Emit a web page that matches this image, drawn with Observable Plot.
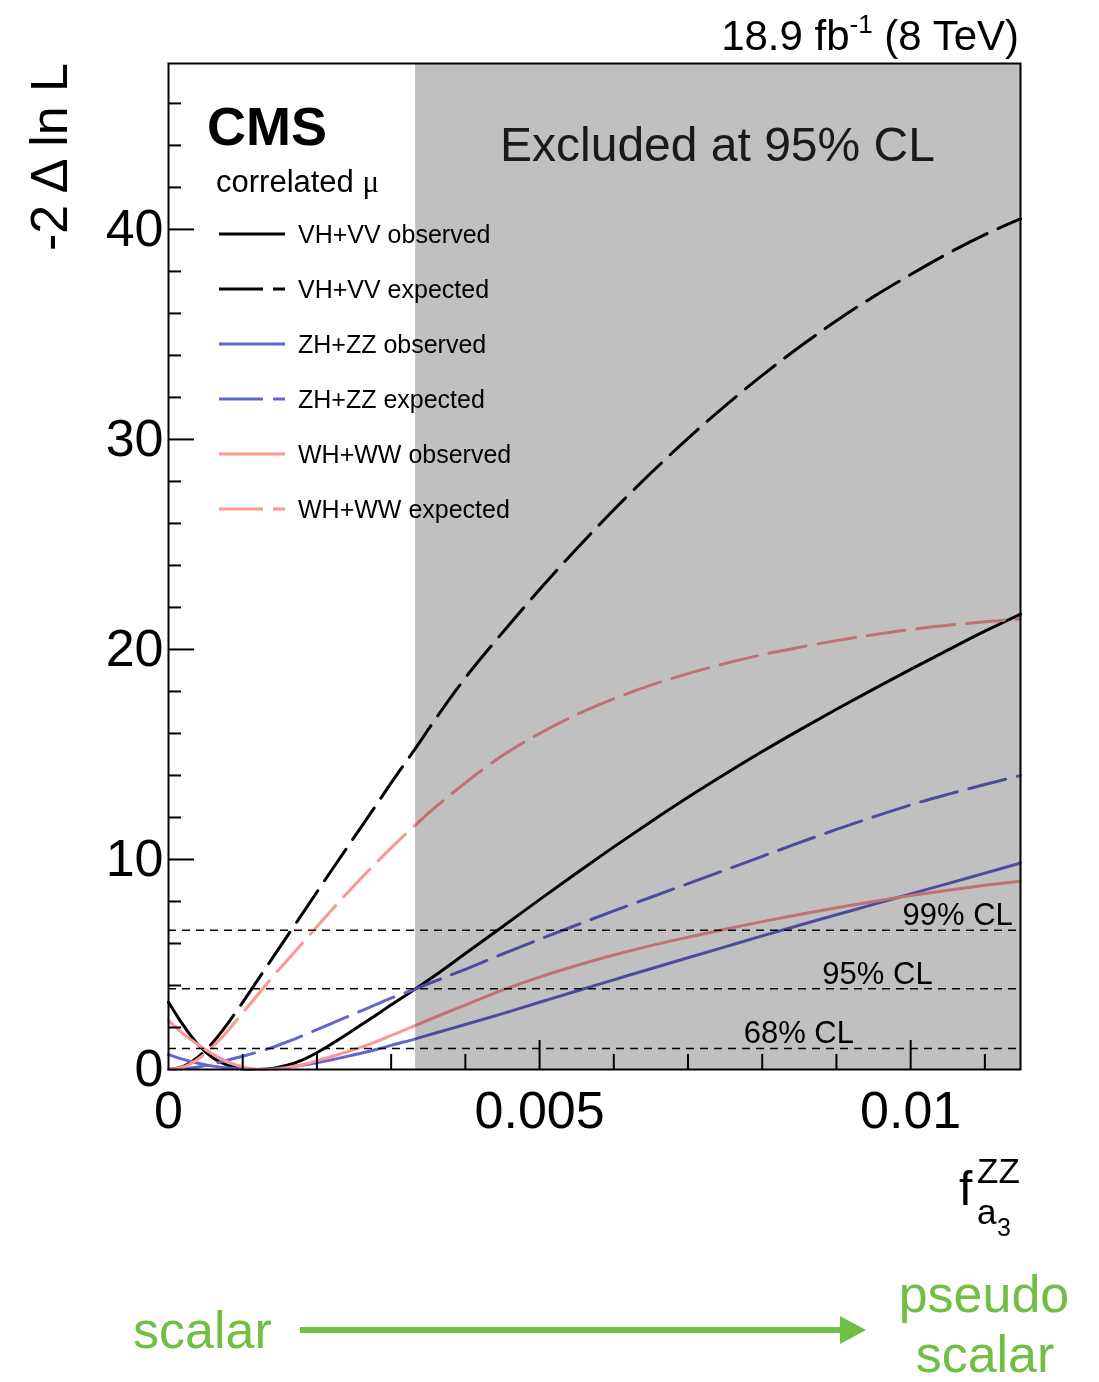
<!DOCTYPE html>
<html><head><meta charset="utf-8">
<script src="https://cdn.jsdelivr.net/npm/d3@7"></script>
<script src="https://cdn.jsdelivr.net/npm/@observablehq/plot@0.6"></script>
<style>body{margin:0;background:#fff;} svg{display:block}</style>
</head><body><div id="chart"></div>
<script>
// ---- data ----
const fa3 = [0,0.0002,0.0004,0.0006,0.0008,0.0010,0.0012,0.0014,0.0016,0.0018,0.0020,0.0022,0.0025,0.0028,0.0030,0.00333,0.0036,0.0040,0.0045,0.0050,0.0055,0.0060,0.0065,0.0070,0.0075,0.0080,0.0085,0.0090,0.0095,0.0100,0.0105,0.0110,0.01148];
const vhvvObserved = [3.2,2.1,1.18,0.55,0.2,0.04,0.0,0.05,0.2,0.45,0.8,1.22,1.9,2.6,3.08,3.84,4.5,5.52,6.8,8.09,9.36,10.6,11.8,12.96,14.07,15.14,16.16,17.15,18.11,19.05,19.97,20.87,21.68];
const vhvvExpected = [0,0.15,0.6,1.3,2.2,3.2,4.25,5.3,6.35,7.4,8.45,9.5,11.05,12.6,13.65,15.3,16.7,18.65,20.8,22.85,24.8,26.65,28.4,30.05,31.6,33.05,34.4,35.65,36.8,37.85,38.85,39.75,40.5];
const zhzzObserved = [0.71,0.48,0.3,0.16,0.07,0.02,0.0,0.02,0.1,0.2,0.32,0.46,0.7,0.95,1.15,1.46,1.74,2.14,2.66,3.2,3.74,4.27,4.8,5.32,5.84,6.36,6.87,7.37,7.86,8.36,8.85,9.35,9.83];
const zhzzExpected = [0,0.03,0.12,0.27,0.45,0.63,0.83,1.05,1.32,1.6,1.9,2.2,2.65,3.1,3.4,3.84,4.22,4.77,5.5,6.2,6.88,7.55,8.2,8.85,9.5,10.15,10.8,11.43,12.03,12.6,13.1,13.57,14.0];
const whwwObserved = [2.33,1.7,1.18,0.72,0.36,0.12,0.01,0.0,0.08,0.22,0.42,0.62,0.95,1.33,1.62,2.1,2.5,3.07,3.78,4.4,4.95,5.45,5.9,6.3,6.68,7.04,7.38,7.7,8.0,8.28,8.54,8.77,8.97];
const whwwExpected = [0,0.12,0.5,1.1,1.85,2.7,3.55,4.4,5.2,6.0,6.8,7.6,8.75,9.85,10.55,11.65,12.5,13.65,14.95,16.0,16.9,17.65,18.3,18.85,19.33,19.75,20.1,20.42,20.7,20.95,21.15,21.32,21.45];
const seriesNames = ["VH+VV observed","VH+VV expected","ZH+ZZ observed","ZH+ZZ expected","WH+WW observed","WH+WW expected"];
const clLevels = [1.0, 3.84, 6.63];
const clLabels = ["68% CL","95% CL","99% CL"];
const xTickLabels = [0, 0.005, 0.01];
const yTickLabels = [0, 10, 20, 30, 40];
const exclusionStart = 0.00333;
const xMax = 0.01148, yMax = 47.9;

// ---- styles ----
const BLACK = "#000", BLUE = "#6565d0", PINK = "#ff9696", GREEN = "#6fbf45";
const FONT = "'Liberation Sans', Arial, Helvetica, sans-serif";
const DASH = "38,12";
const seriesValues = [vhvvObserved, vhvvExpected, zhzzObserved, zhzzExpected, whwwObserved, whwwExpected];
const seriesColor = [BLACK, BLACK, BLUE, BLUE, PINK, PINK];
const seriesDash = [null, DASH, null, DASH, null, DASH];
const clLabelX = [0.00775, 0.00881, 0.00989];

const W = 1099, H = 1382, mL = 168, mR = 79, mT = 63, mB = 313;
const frameW = W - mL - mR, frameH = H - mT - mB;

const lineMarks = seriesNames.map((name, i) => {
  const rows = fa3.map((f, j) => ({f, v: seriesValues[i][j]}));
  return Plot.line(rows, {x: "f", y: "v", stroke: seriesColor[i], strokeWidth: 3,
    strokeDasharray: seriesDash[i] || undefined, curve: "monotone-x"});
});

const xMinor = d3.range(1, 12).map(k => k / 1000).filter(v => Math.abs(v - 0.005) > 1e-9 && Math.abs(v - 0.01) > 1e-9);
const xMajor = [0.005, 0.01];
const yMinor = d3.range(2, 48, 2).filter(v => v % 10 !== 0);
const yMajor = [10, 20, 30, 40];

const clRows = clLevels.map((l, i) => ({level: l, label: clLabels[i], x: clLabelX[i]}));

const chart = Plot.plot({
  width: W, height: H,
  marginLeft: mL, marginRight: mR, marginTop: mT, marginBottom: mB,
  style: {fontFamily: FONT, background: "white", color: "black"},
  x: {domain: [0, xMax], label: null},
  y: {domain: [0, yMax], label: null},
  marks: [
    ...lineMarks,
    Plot.rect([{x1: exclusionStart, x2: xMax}], {x1: "x1", x2: "x2", fill: "#c0c0c0", mixBlendMode: "multiply", ariaLabel: "excluded"}),
    Plot.ruleY(clRows, {y: "level", stroke: BLACK, strokeWidth: 1.5, strokeDasharray: "8,6"}),
    Plot.text(clRows, {x: "x", y: "level", text: "label", textAnchor: "start", lineAnchor: "bottom", dy: -5, fontSize: 31, fill: BLACK}),
    Plot.tickX(xMinor, {x: d => d, insetTop: frameH - 15, stroke: BLACK, strokeWidth: 2}),
    Plot.tickX(xMajor, {x: d => d, insetTop: frameH - 29, stroke: BLACK, strokeWidth: 2}),
    Plot.tickY(yMinor, {y: d => d, insetRight: frameW - 13, stroke: BLACK, strokeWidth: 2}),
    Plot.tickY(yMajor, {y: d => d, insetRight: frameW - 26, stroke: BLACK, strokeWidth: 2}),
    Plot.frame({stroke: BLACK, strokeWidth: 2}),
    Plot.axisX(xTickLabels, {tickSize: 0, tickPadding: 22, fontSize: 52, tickFormat: d => d === 0 ? "0" : String(d), label: null}),
    Plot.axisY(yTickLabels, {tickSize: 0, tickPadding: 5, fontSize: 52, label: null})
  ]
});
document.getElementById("chart").appendChild(chart);

const svg = d3.select(chart);
svg.selectAll("[aria-label=excluded]").style("mix-blend-mode", "multiply");
const g = svg.append("g").attr("font-family", FONT).attr("fill", "black").attr("text-anchor", "start");

// title
const t = g.append("text").attr("x", 1019).attr("y", 50).attr("text-anchor", "end").attr("font-size", 42);
t.append("tspan").text("18.9 fb");
t.append("tspan").attr("dy", -17).attr("font-size", 26).text("-1");
t.append("tspan").attr("dy", 17).text(" (8 TeV)");

// y label
g.append("text").attr("transform", "translate(67,63) rotate(-90)").attr("text-anchor", "end")
  .attr("font-size", 52).text("-2 \u0394 ln L");

// CMS + correlated mu
g.append("text").attr("x", 207).attr("y", 145).attr("font-size", 54).attr("font-weight", "bold").text("CMS");
const cm = g.append("text").attr("x", 216).attr("y", 192).attr("font-size", 31);
cm.append("tspan").text("correlated ");
cm.append("tspan").attr("font-family", "'Liberation Serif', 'DejaVu Serif', serif").text("\u03bc");

// Excluded
g.append("text").attr("x", 500).attr("y", 161).attr("font-size", 48).attr("fill", "#1a1a1a").text("Excluded at 95% CL");

// legend
const legendY = [234, 289, 344, 399, 454, 509];
seriesNames.forEach((name, i) => {
  g.append("line").attr("x1", 219).attr("x2", 285).attr("y1", legendY[i]).attr("y2", legendY[i])
    .attr("stroke", seriesColor[i]).attr("stroke-width", 3)
    .attr("stroke-dasharray", seriesDash[i] ? "44,10" : null);
  g.append("text").attr("x", 298).attr("y", legendY[i] + 9).attr("font-size", 25).text(name);
});

// x label
g.append("text").attr("x", 959).attr("y", 1205).attr("font-size", 48).text("f");
g.append("text").attr("x", 977).attr("y", 1183).attr("font-size", 35).text("ZZ");
g.append("text").attr("x", 977).attr("y", 1224).attr("font-size", 35).text("a");
g.append("text").attr("x", 997).attr("y", 1236).attr("font-size", 25).text("3");

// scalar -> pseudo scalar
g.append("text").attr("x", 133).attr("y", 1348).attr("font-size", 52).attr("fill", GREEN).text("scalar");
g.append("line").attr("x1", 300).attr("x2", 845).attr("y1", 1330).attr("y2", 1330).attr("stroke", GREEN).attr("stroke-width", 6);
g.append("polygon").attr("points", "840,1316 866,1330 840,1344").attr("fill", GREEN);
g.append("text").attr("x", 984).attr("y", 1312).attr("text-anchor", "middle").attr("font-size", 52).attr("fill", GREEN).text("pseudo");
g.append("text").attr("x", 985).attr("y", 1372).attr("text-anchor", "middle").attr("font-size", 52).attr("fill", GREEN).text("scalar");
</script>
</body></html>
